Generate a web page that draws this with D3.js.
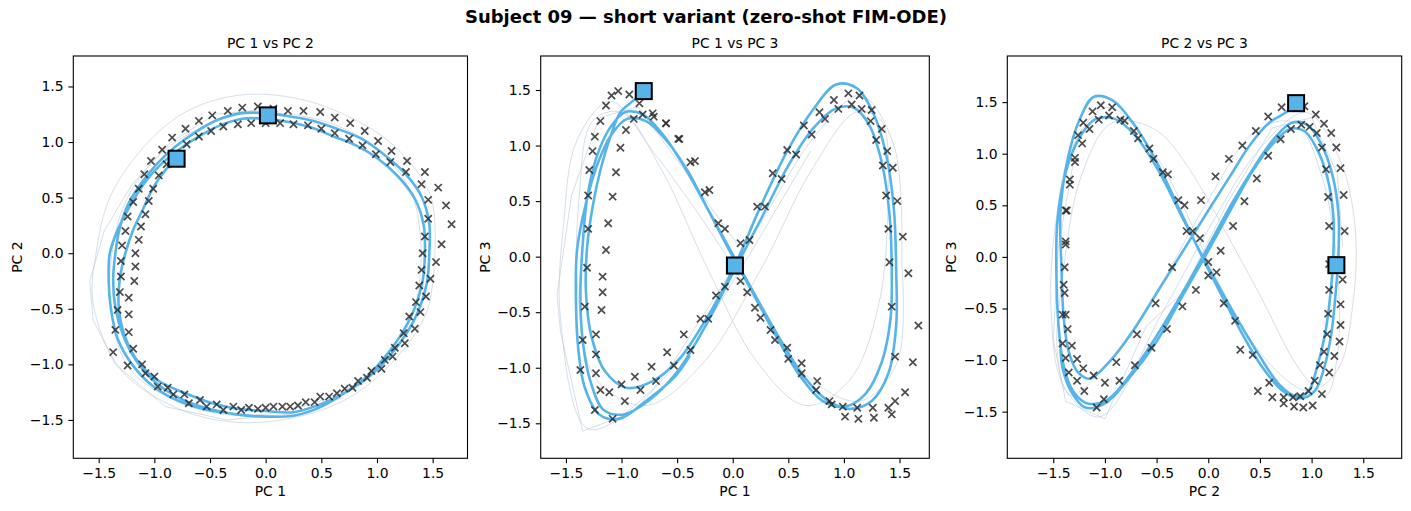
<!DOCTYPE html>
<html>
<head>
<meta charset="utf-8">
<title>Subject 09 — short variant (zero-shot FIM-ODE)</title>
<script src="https://d3js.org/d3.v7.min.js"></script>
<style>
  body { margin: 0; background: #fff; font-family: "DejaVu Sans", sans-serif; }
  .axis text { font-size: 13.9px; font-family: "DejaVu Sans", sans-serif; fill: #000; }
  .axis path, .axis line { stroke: #000; stroke-width: 1.1; }
  .label { font-size: 13.9px; text-anchor: middle; }
  .suptitle { font-size: 18px; font-weight: bold; text-anchor: middle; }
</style>
</head>
<body>
<div id="chart"></div>
<script>
// observed samples (x markers): two passes round the loop
const markerPC1 = [
  1.41,1.43,1.46,1.46,1.40,1.26,1.12,0.99,0.87,0.75,0.62,0.50,0.38,0.25,0.13,0.00,-0.13,-0.25,-0.38,-0.49,
  -0.60,-0.71,-0.81,-0.89,-0.96,-1.01,-1.05,-1.08,-1.12,-1.14,-1.17,-1.17,-1.18,-1.23,-1.23,-1.23,-1.19,-1.11,-1.00,-0.88,
  -0.73,-0.59,-0.44,-0.29,-0.15,0.00,0.15,0.29,0.44,0.57,0.71,0.83,0.95,1.07,1.16,1.24,1.29,1.35,1.38,1.40,
  1.58,1.67,1.62,1.55,1.43,1.27,1.13,1.01,0.89,0.76,0.62,0.49,0.34,0.20,0.07,-0.07,-0.21,-0.34,-0.48,-0.60,
  -0.72,-0.84,-0.93,-1.03,-1.09,-1.14,-1.19,-1.24,-1.26,-1.29,-1.30,-1.30,-1.31,-1.33,-1.35,-1.37,-1.24,-1.08,-0.97,-0.83,
  -0.69,-0.53,-0.38,-0.22,-0.07,0.07,0.22,0.36,0.49,0.64,0.78,0.91,1.04,1.14,1.25,1.34,1.39,1.44,1.48,1.53
];
const markerPC2 = [
  0.00,0.15,0.31,0.48,0.62,0.73,0.82,0.89,0.97,1.03,1.08,1.12,1.15,1.16,1.17,1.17,1.17,1.16,1.14,1.10,
  1.05,0.98,0.90,0.80,0.70,0.58,0.47,0.35,0.24,0.12,0.00,-0.12,-0.25,-0.40,-0.55,-0.71,-0.86,-1.00,-1.11,-1.21,
  -1.27,-1.32,-1.36,-1.38,-1.39,-1.39,-1.38,-1.37,-1.34,-1.29,-1.22,-1.15,-1.06,-0.96,-0.85,-0.72,-0.57,-0.44,-0.29,-0.15,
  0.08,0.26,0.43,0.59,0.73,0.83,0.92,1.01,1.10,1.17,1.22,1.27,1.28,1.28,1.30,1.32,1.31,1.28,1.24,1.19,
  1.12,1.04,0.93,0.83,0.71,0.58,0.46,0.33,0.20,0.07,-0.07,-0.21,-0.35,-0.51,-0.69,-0.89,-1.01,-1.08,-1.20,-1.27,
  -1.35,-1.38,-1.41,-1.41,-1.40,-1.38,-1.38,-1.34,-1.29,-1.26,-1.21,-1.12,-1.04,-0.93,-0.81,-0.68,-0.53,-0.39,-0.23,-0.08
];
const markerPC3 = [
  -0.05,-0.45,-0.90,-1.30,-1.36,-1.36,-1.36,-1.35,-1.30,-1.20,-1.05,-0.92,-0.75,-0.55,-0.32,-0.07,0.30,0.58,0.85,1.06,
  1.20,1.26,1.28,1.24,1.14,0.98,0.76,0.54,0.30,0.06,-0.18,-0.32,-0.48,-0.70,-0.88,-1.05,-1.20,-1.22,-1.15,-1.08,
  -0.99,-0.86,-0.70,-0.56,-0.35,-0.10,0.15,0.45,0.70,0.92,1.10,1.24,1.33,1.37,1.33,1.22,1.05,0.82,0.55,0.25,
  -0.15,-0.62,-0.95,-1.22,-1.42,-1.45,-1.46,-1.44,-1.33,-1.12,-0.96,-0.82,-0.66,-0.46,-0.22,0.25,0.60,0.86,1.06,1.20,
  1.29,1.38,1.46,1.49,1.45,1.36,1.22,1.08,0.95,0.78,0.55,0.25,-0.10,-0.45,-0.75,-1.02,-1.38,-1.46,-1.30,-1.20,
  -1.12,-0.98,-0.84,-0.56,-0.27,0.12,0.45,0.75,0.96,1.18,1.30,1.41,1.47,1.45,1.32,1.15,0.95,0.80,0.50,0.18
];

// zero-shot prediction, starting at the first square
const predPC1 = [
  -0.80,
  -0.90,-1.01,-1.10,-1.19,-1.26,-1.31,-1.32,-1.27,-1.15,-0.96,-0.72,-0.48,-0.25,0.00,0.25,0.49,0.72,0.93,1.11,1.26,1.38,1.45,
  1.47,1.47,1.40,1.25,1.06,0.86,0.64,0.43,0.22,0.00,-0.22,-0.43,-0.63,-0.81,
  -0.97,-1.11,-1.23,-1.31,-1.35,-1.37,-1.35,-1.28,-1.16,-0.98,-0.76,-0.51,-0.26,0.00,0.26,0.50,0.72,0.92,1.09,1.23,1.34,1.41,
  1.43,1.42,1.34,1.19,1.01,0.81,0.61,0.41,0.21,0.00,-0.21,-0.41,-0.60,-0.78,
  -0.95,-1.09,-1.21,-1.32,-1.40,-1.41,-1.39,-1.33,-1.20,-1.02,-0.78,-0.52,-0.39
];
const predPC2 = [
  0.85,
  0.75,0.59,0.40,0.21,0.00,-0.23,-0.48,-0.73,-0.97,-1.15,-1.26,-1.35,-1.40,-1.42,-1.43,-1.36,-1.25,-1.11,-0.93,-0.73,-0.50,-0.26,
  0.00,0.26,0.51,0.72,0.89,1.03,1.12,1.19,1.23,1.26,1.26,1.20,1.09,0.96,
  0.81,0.64,0.45,0.23,0.00,-0.24,-0.49,-0.74,-0.97,-1.17,-1.31,-1.40,-1.45,-1.47,-1.46,-1.38,-1.25,-1.10,-0.91,-0.71,-0.49,-0.25,
  0.00,0.25,0.49,0.69,0.85,0.97,1.05,1.13,1.18,1.21,1.21,1.15,1.05,0.93,
  0.79,0.63,0.44,0.23,0.00,-0.25,-0.50,-0.77,-1.00,-1.19,-1.33,-1.41,-1.43
];
const predPC3 = [
  1.49,
  1.40,1.30,1.08,0.78,0.45,0.08,-0.32,-0.72,-1.03,-1.18,-1.12,-0.92,-0.58,-0.12,0.45,0.95,1.32,1.55,1.52,1.30,0.92,0.42,
  -0.12,-0.62,-1.05,-1.30,-1.37,-1.30,-1.08,-0.75,-0.38,0.02,0.42,0.80,1.10,1.28,
  1.30,1.15,0.88,0.52,0.10,-0.33,-0.75,-1.12,-1.38,-1.42,-1.30,-1.05,-0.65,-0.15,0.35,0.82,1.15,1.33,1.34,1.18,0.85,0.38,
  -0.10,-0.55,-0.95,-1.24,-1.35,-1.30,-1.08,-0.75,-0.38,0.00,0.40,0.78,1.05,1.22,
  1.24,1.10,0.85,0.48,0.06,-0.38,-0.82,-1.18,-1.42,-1.46,-1.30,-1.08,-0.90
];

// the two squares
const squarePC1 = [-0.80, 0.02];
const squarePC2 = [0.85, 1.24];
const squarePC3 = [1.49, -0.08];

// faint reference trajectories
const refA1 = [1.52,1.48,1.15,0.70,0.24,-0.25,-0.72,-1.10,-1.40,-1.52,-1.55,-1.30,-0.78,-0.28,0.25,0.75,1.15,1.45,1.52];
const refA2 = [0.00,0.52,0.97,1.25,1.40,1.42,1.27,0.95,0.50,0.02,-0.45,-1.05,-1.40,-1.52,-1.48,-1.30,-0.97,-0.52,0.00];
const refA3 = [-0.05,-0.95,-1.30,-1.10,-0.45,0.30,0.95,1.40,1.05,0.30,-0.55,-1.55,-1.25,-0.55,0.30,1.10,1.45,1.00,-0.05];
const refB1 = [1.40,1.33,1.06,0.66,0.22,-0.22,-0.64,-1.00,-1.26,-1.38,-1.39,-1.23,-0.78,-0.26,0.25,0.71,1.11,1.34,1.40];
const refB2 = [0.00,0.49,0.89,1.14,1.25,1.25,1.10,0.84,0.46,0.00,-0.51,-1.03,-1.34,-1.46,-1.40,-1.23,-0.93,-0.49,0.00];
const refB3 = [0.55,-0.35,-1.10,-1.34,-0.95,-0.12,0.78,1.30,1.22,0.55,-0.35,-1.10,-1.34,-0.95,-0.12,0.78,1.30,1.22,0.55];
const refC1 = [0.05,-0.45,-0.85,-1.20,-1.45,-1.58,-1.55,-1.35,-0.90,-0.35,0.20,0.70];
const refC2 = [1.30,1.25,1.00,0.62,0.20,-0.25,-0.60,-1.00,-1.38,-1.50,-1.45,-1.30];
const refC3 = [0.10,0.80,1.35,1.25,0.55,-0.35,-0.67,-1.57,-1.40,-0.80,0.10,0.95];

const tickValues = [-1.5, -1.0, -0.5, 0.0, 0.5, 1.0, 1.5];

const toPts = (a, b, c) => a.map((v, i) => [v, b[i], c[i]]);
const markers = toPts(markerPC1, markerPC2, markerPC3);
const pred = toPts(predPC1, predPC2, predPC3);
const squares = toPts(squarePC1, squarePC2, squarePC3);
const refs = [
  {pts: toPts(refA1, refA2, refA3), curve: d3.curveCatmullRom},
  {pts: toPts(refB1, refB2, refB3), curve: d3.curveCatmullRom},
  {pts: toPts(refC1, refC2, refC3), curve: d3.curveLinear}
];

const panels = [
  {title: "PC 1 vs PC 2", xi: 0, yi: 1, xlabel: "PC 1", ylabel: "PC 2",
   box: [73.3, 56, 467.5, 458.3], xdom: [-1.728, 1.813], ydom: [-1.845, 1.774]},
  {title: "PC 1 vs PC 3", xi: 0, yi: 2, xlabel: "PC 1", ylabel: "PC 3",
   box: [540.7, 56, 929.3, 458.3], xdom: [-1.727, 1.768], ydom: [-1.815, 1.806]},
  {title: "PC 2 vs PC 3", xi: 1, yi: 2, xlabel: "PC 2", ylabel: "PC 3",
   box: [1007.3, 56, 1401.7, 458.3], xdom: [-1.945, 1.872], ydom: [-1.952, 1.947]}
];

const svg = d3.select("#chart").append("svg")
  .attr("width", 1411)
  .attr("height", 511);

svg.append("text")
  .attr("class", "suptitle")
  .attr("x", 706)
  .attr("y", 23)
  .text("Subject 09 — short variant (zero-shot FIM-ODE)");

panels.forEach((p, k) => {
  const [x0, y0, x1, y1] = p.box;
  const x = d3.scaleLinear().domain(p.xdom).range([x0, x1]);
  const y = d3.scaleLinear().domain(p.ydom).range([y1, y0]);

  const clipId = "clip" + k;
  svg.append("clipPath").attr("id", clipId)
    .append("rect").attr("x", x0).attr("y", y0).attr("width", x1 - x0).attr("height", y1 - y0);

  const g = svg.append("g").attr("clip-path", `url(#${clipId})`);

  // faint reference lines
  refs.forEach(r => {
    g.append("path")
      .datum(r.pts)
      .attr("fill", "none")
      .attr("stroke", "#b9c6da")
      .attr("stroke-opacity", 0.65)
      .attr("stroke-width", 0.9)
      .attr("d", d3.line().x(d => x(d[p.xi])).y(d => y(d[p.yi])).curve(r.curve));
  });

  // prediction
  g.append("path")
    .datum(pred)
    .attr("fill", "none")
    .attr("stroke", "#56B4E9")
    .attr("stroke-width", 2.6)
    .attr("stroke-linecap", "round")
    .attr("d", d3.line().x(d => x(d[p.xi])).y(d => y(d[p.yi])).curve(d3.curveCatmullRom.alpha(0.5)));

  // observed x markers
  g.selectAll(".mk")
    .data(markers)
    .join("path")
      .attr("class", "mk")
      .attr("transform", d => `translate(${x(d[p.xi])},${y(d[p.yi])})`)
      .attr("d", "M-3.6,-3.6L3.6,3.6M-3.6,3.6L3.6,-3.6")
      .attr("stroke", "#2b2b2b")
      .attr("stroke-opacity", 0.85)
      .attr("stroke-width", 1.7);

  // squares
  svg.selectAll(".sq" + k)
    .data(squares)
    .join("rect")
      .attr("class", "sq" + k)
      .attr("x", d => x(d[p.xi]) - 8)
      .attr("y", d => y(d[p.yi]) - 8)
      .attr("width", 16)
      .attr("height", 16)
      .attr("fill", "#56B4E9")
      .attr("stroke", "#000")
      .attr("stroke-width", 2);

  // frame
  svg.append("rect")
    .attr("x", x0).attr("y", y0)
    .attr("width", x1 - x0).attr("height", y1 - y0)
    .attr("fill", "none")
    .attr("stroke", "#000")
    .attr("stroke-width", 1.1);

  const fmt = d3.format(".1f");
  const xAxis = svg.append("g")
    .attr("class", "axis")
    .attr("transform", `translate(0,${y1})`)
    .call(d3.axisBottom(x).tickValues(tickValues).tickFormat(fmt).tickSize(4.9).tickPadding(4.9));
  xAxis.select(".domain").remove();

  const yAxis = svg.append("g")
    .attr("class", "axis")
    .attr("transform", `translate(${x0},0)`)
    .call(d3.axisLeft(y).tickValues(tickValues).tickFormat(fmt).tickSize(4.9).tickPadding(4.9));
  yAxis.select(".domain").remove();

  svg.append("text")
    .attr("class", "label")
    .attr("x", (x0 + x1) / 2)
    .attr("y", 48)
    .text(p.title);

  svg.append("text")
    .attr("class", "label")
    .attr("x", (x0 + x1) / 2)
    .attr("y", 496)
    .text(p.xlabel);

  svg.append("text")
    .attr("class", "label")
    .attr("transform", `translate(${x0 - 51},${(y0 + y1) / 2}) rotate(-90)`)
    .text(p.ylabel);
});
</script>
</body>
</html>
